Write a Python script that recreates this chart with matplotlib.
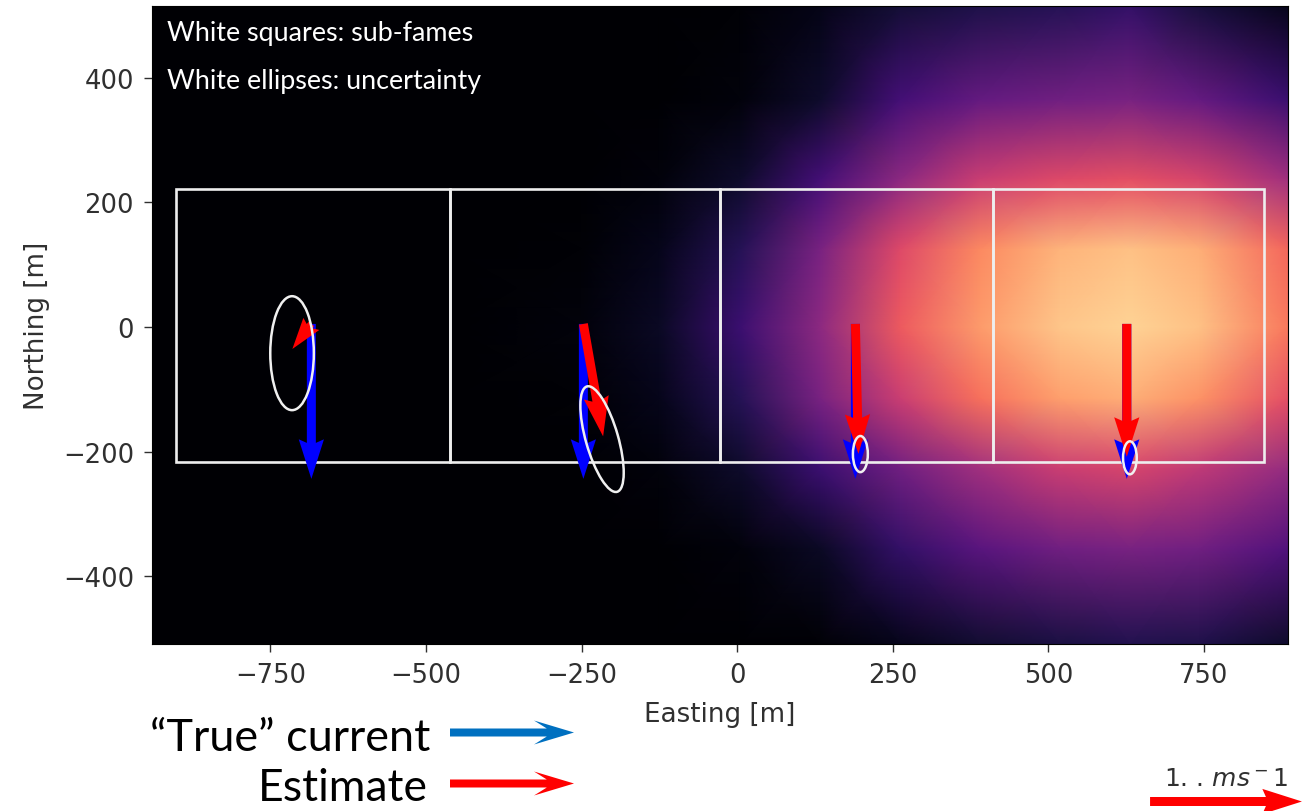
import matplotlib
matplotlib.use('Agg')
import matplotlib.pyplot as plt
from matplotlib.patches import Ellipse, Rectangle

# background intensity (0 = black, 1 = pale yellow)
grid_east = [-940, -700, -460, -250, -125, 5, 133, 262, 390, 519, 631, 743, 885]
grid_north = [515, 365, 237, 125, 0, -115, -228, -356, -510]
intensity = [
	[0, 0, 0, 0, 0, .01, .04, .10, .13, .15, .18, .11, .05],
	[0, 0, 0, 0, 0, .02, .08, .22, .30, .33, .35, .30, .20],
	[0, 0, 0, 0, .02, .08, .22, .40, .55, .60, .62, .58, .45],
	[0, 0, 0, .01, .05, .15, .35, .60, .75, .84, .87, .83, .68],
	[0, 0, 0, .02, .07, .20, .40, .65, .79, .88, .91, .87, .72],
	[0, 0, 0, .01, .05, .15, .35, .55, .70, .80, .83, .77, .62],
	[0, 0, 0, 0, .02, .08, .20, .33, .45, .55, .58, .52, .42],
	[0, 0, 0, 0, 0, .02, .07, .18, .27, .33, .35, .33, .25],
	[0, 0, 0, 0, 0, 0, .01, .05, .09, .12, .14, .13, .08],
]

# sub-frame edges
frame_edges = [-901, -462, -27, 411, 846]
frame_south = -217
frame_north = 221

# current vectors, m/s
true_x = [-684, -247, 190, 626]
true_y = [5, 5, 5, 5]
true_u = [0, 0, 0, 0]
true_v = [-1.02, -1.02, -1.02, -1.02]
est_u = [-.125, .13, .02, 0]
est_v = [-.165, -.74, -.855, -.875]

# uncertainty ellipses
ell_x = [-715, -217, 198, 631]
ell_y = [-42, -180, -204, -210]
ell_w = [70, 52, 24, 22]
ell_h = [183, 176, 58, 53]
ell_ang = [0, 16, 0, 0]

x_ticks = [-750, -500, -250, 0, 250, 500, 750]
y_ticks = [-400, -200, 0, 200, 400]

fig = plt.figure(figsize=(13.12, 8.12), dpi=100)
ax = fig.add_axes([152/1312, 1-645/812, (1288-152)/1312, (645-7)/812])
text_col = '#303030'

ax.pcolormesh(grid_east, grid_north, intensity, cmap='magma', vmin=0, vmax=1,
	shading='gouraud', rasterized=True)
ax.set_xlim(-940, 885)
ax.set_ylim(-509, 515.5)

for i in range(len(frame_edges)-1):
	ax.add_patch(Rectangle((frame_edges[i], frame_south), frame_edges[i+1]-frame_edges[i],
		frame_north-frame_south, fill=False, ec='#eeeeee', lw=1.9, zorder=3))

arrow_style = dict(angles='xy', scale_units='xy', scale=1/244, width=9/1136,
	headwidth=2.8, headlength=4.4, headaxislength=4)
ax.quiver(true_x, true_y, true_u, true_v, color='blue', zorder=4, **arrow_style)
q2 = ax.quiver(true_x, true_y, est_u, est_v, color='red', zorder=5, **arrow_style)

for i in range(len(ell_x)):
	ax.add_patch(Ellipse((ell_x[i], ell_y[i]), ell_w[i], ell_h[i], angle=ell_ang[i],
		fill=False, ec='#f0f0f0', lw=1.8, zorder=6))

ax.set_xticks(x_ticks)
ax.set_yticks(y_ticks)
ax.tick_params(labelsize=18.6, length=6, width=1, labelcolor=text_col, color=text_col, pad=7)
ax.set_xlabel('Easting [m]', fontsize=18.8, color=text_col, labelpad=9)
ax.set_ylabel('Northing [m]', fontsize=18.8, color=text_col, labelpad=9)

ax.quiverkey(q2, 1226/1312, 9.5/812, 1, r'1. . $ms^-1$', coordinates='figure', labelpos='N',
	labelsep=0.11, fontproperties={'size': 18}, labelcolor=text_col)

# slide annotations, in pixel coordinates
over = fig.add_axes([0, 0, 1, 1], zorder=10)
over.set_xlim(0, 1312)
over.set_ylim(812, 0)
over.axis('off')
over.patch.set_alpha(0)
over.quiver([450], [733.5], [124], [0], color='#0070C0', angles='xy', scale_units='xy', scale=1,
	units='xy', width=8, headwidth=3, headlength=5, headaxislength=3.4)
over.quiver([450], [784.5], [124], [0], color='red', angles='xy', scale_units='xy', scale=1,
	units='xy', width=8, headwidth=3, headlength=5, headaxislength=3.4)
over.text(430, 739, '\u201cTrue\u201d current', fontsize=32.4, family='Lato', ha='right', va='center')
over.text(428, 789, 'Estimate', fontsize=32, family='Lato', ha='right', va='center')
over.text(167, 34, 'White squares: sub-fames', color='white', fontsize=19.4, family='Lato', va='center')
over.text(167, 82, 'White ellipses: uncertainty', color='white', fontsize=19.4, family='Lato', va='center')

fig.savefig('out.png', dpi=100)
